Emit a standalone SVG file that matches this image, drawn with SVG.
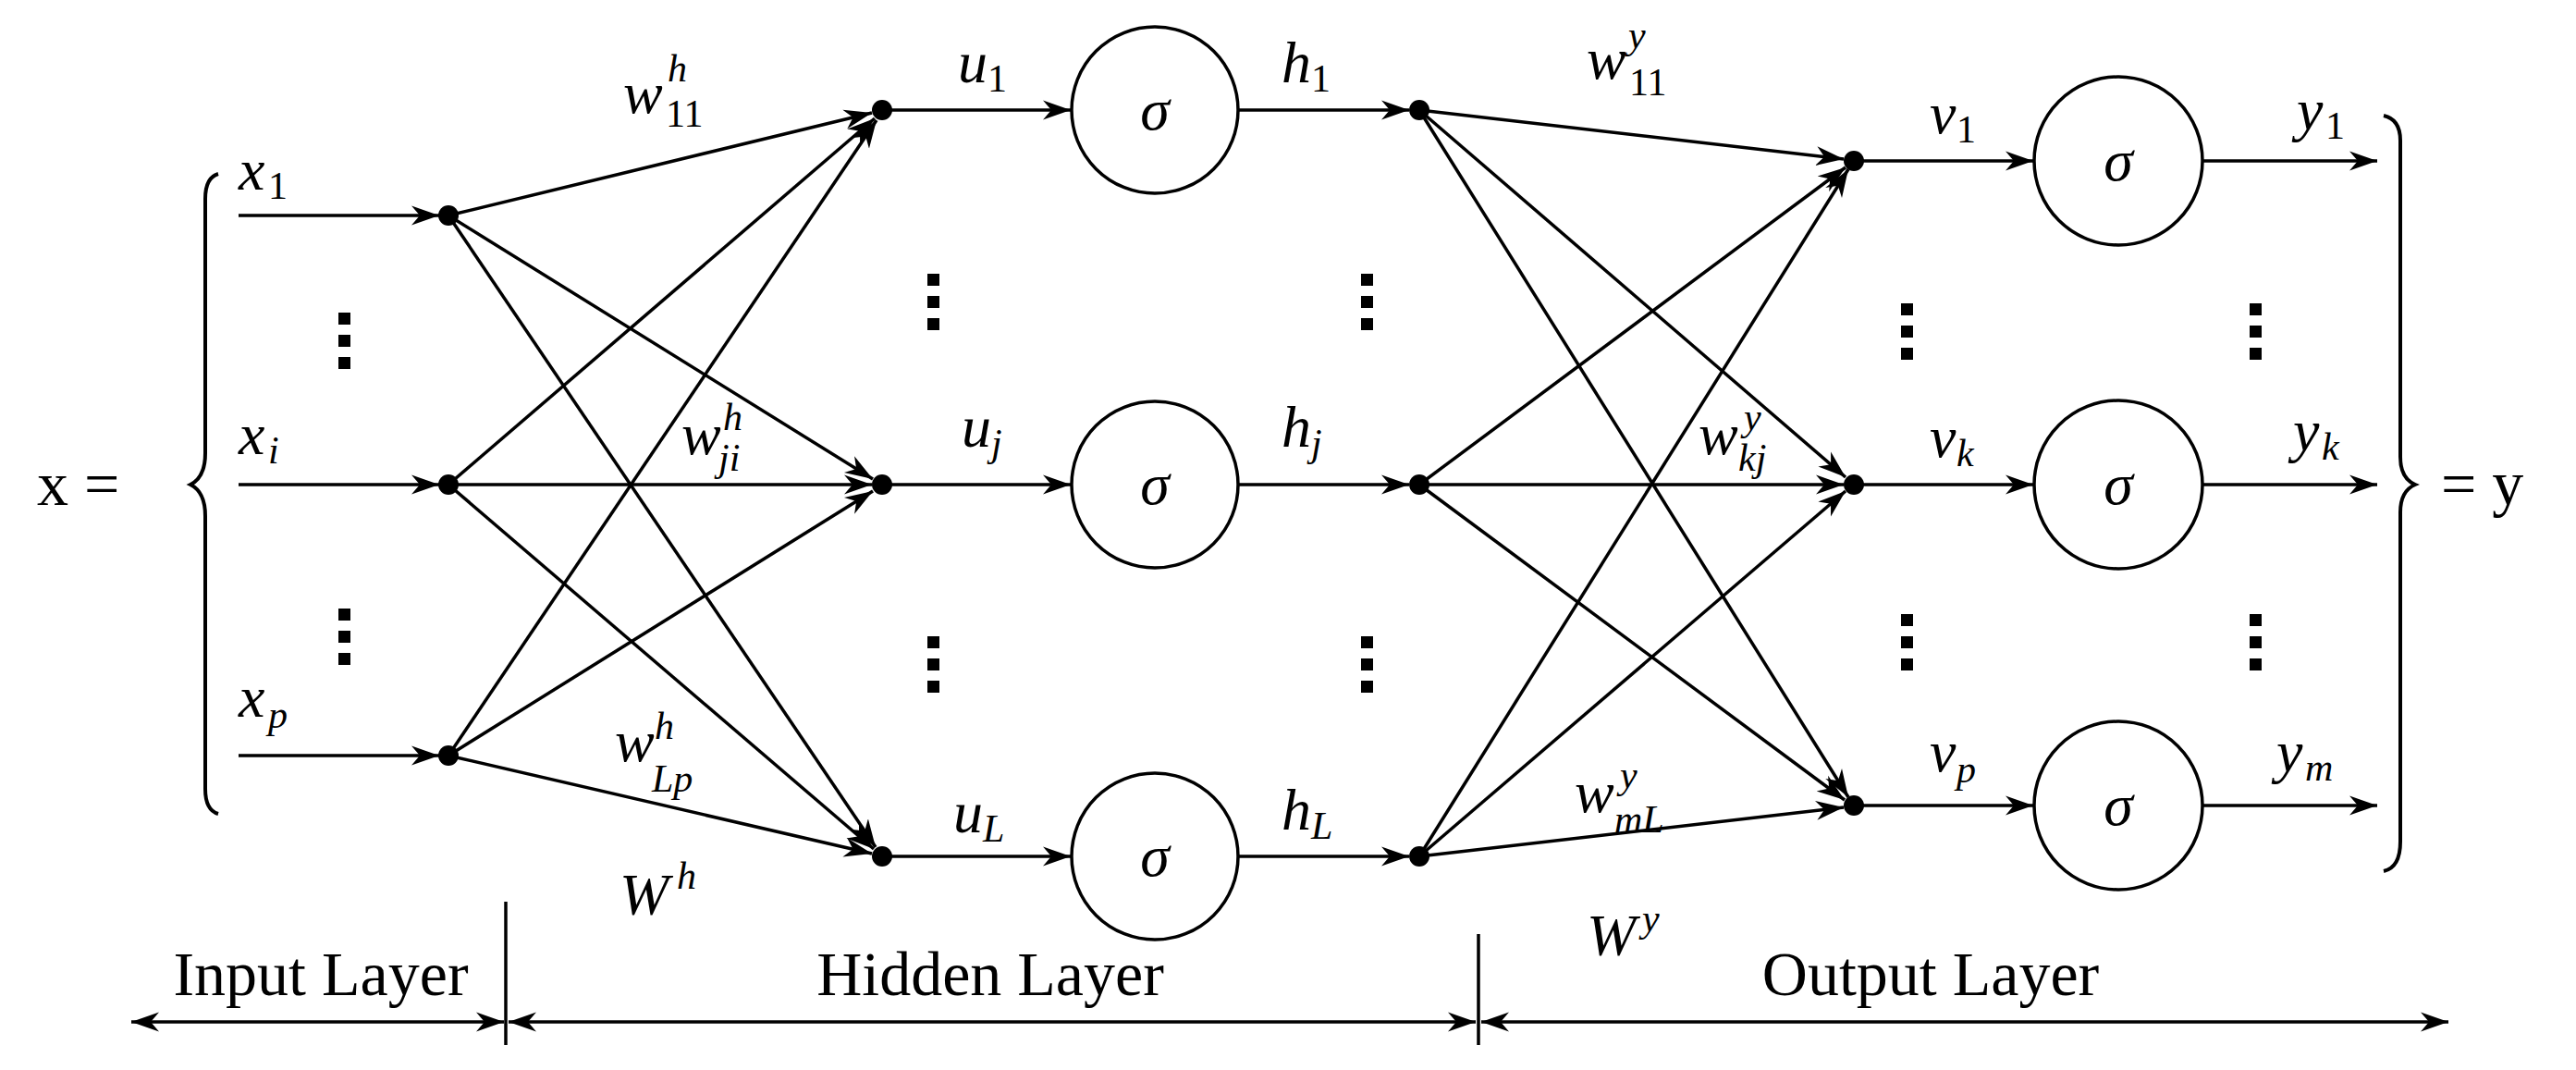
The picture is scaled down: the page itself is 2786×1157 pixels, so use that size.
<svg xmlns="http://www.w3.org/2000/svg" width="2786" height="1157" viewBox="0 0 2786 1157">
<defs>
<marker id="b" viewBox="0 0 10 10" refX="10" refY="5" markerWidth="30" markerHeight="30" markerUnits="userSpaceOnUse" orient="auto-start-reverse"><path d="M0,1.5 L10,5 L0,8.5 L3,5 Z" fill="#000"/></marker>
</defs>
<style>
line{stroke:#000;stroke-width:3.5;fill:none}
.e{marker-end:url(#b)}
circle.n{fill:#000}
circle.s{fill:#fff;stroke:#000;stroke-width:3.5}
text{font-family:"Liberation Serif",serif;fill:#000}
.m{font-style:italic;font-size:64px}
.r{font-size:42px}
.i{font-size:42px;font-style:italic}
.sg{font-style:italic;font-size:64px}
.l{font-size:68px}
.d{fill:#000}
</style>
<rect width="2786" height="1157" fill="#fff"/>
<g id="connectors">
<line class="e" x1="258" y1="233" x2="475" y2="233"/>
<line class="e" x1="258" y1="524" x2="475" y2="524"/>
<line class="e" x1="258" y1="817" x2="475" y2="817"/>
<line class="e" x1="485" y1="233" x2="943" y2="122"/>
<line class="e" x1="485" y1="233" x2="944" y2="518"/>
<line class="e" x1="485" y1="233" x2="947" y2="916"/>
<line class="e" x1="485" y1="524" x2="946" y2="128"/>
<line class="e" x1="485" y1="524" x2="943" y2="524"/>
<line class="e" x1="485" y1="524" x2="945" y2="918"/>
<line class="e" x1="485" y1="817" x2="948" y2="130"/>
<line class="e" x1="485" y1="817" x2="944" y2="531"/>
<line class="e" x1="485" y1="817" x2="943" y2="923"/>
<line class="e" x1="954" y1="119" x2="1158" y2="119"/>
<line class="e" x1="954" y1="524" x2="1158" y2="524"/>
<line class="e" x1="954" y1="926" x2="1158" y2="926"/>
<line class="e" x1="1340" y1="119" x2="1524" y2="119"/>
<line class="e" x1="1340" y1="524" x2="1524" y2="524"/>
<line class="e" x1="1340" y1="926" x2="1524" y2="926"/>
<line class="e" x1="1535" y1="119" x2="1994" y2="172"/>
<line class="e" x1="1535" y1="119" x2="1996" y2="516"/>
<line class="e" x1="1535" y1="119" x2="1999" y2="862"/>
<line class="e" x1="1535" y1="524" x2="1996" y2="181"/>
<line class="e" x1="1535" y1="524" x2="1994" y2="524"/>
<line class="e" x1="1535" y1="524" x2="1995" y2="865"/>
<line class="e" x1="1535" y1="926" x2="1999" y2="183"/>
<line class="e" x1="1535" y1="926" x2="1996" y2="531"/>
<line class="e" x1="1535" y1="926" x2="1994" y2="873"/>
<line class="e" x1="2005" y1="174" x2="2199" y2="174"/>
<line class="e" x1="2005" y1="524" x2="2199" y2="524"/>
<line class="e" x1="2005" y1="871" x2="2199" y2="871"/>
<line class="e" x1="2383" y1="174" x2="2571" y2="174"/>
<line class="e" x1="2383" y1="524" x2="2571" y2="524"/>
<line class="e" x1="2383" y1="871" x2="2571" y2="871"/>
</g>
<g id="input-nodes">
<circle class="n" cx="485" cy="233" r="11"/>
<circle class="n" cx="485" cy="524" r="11"/>
<circle class="n" cx="485" cy="817" r="11"/>
</g>
<g id="hidden-nodes">
<circle class="n" cx="954" cy="119" r="11"/>
<circle class="n" cx="954" cy="524" r="11"/>
<circle class="n" cx="954" cy="926" r="11"/>
<circle class="s" cx="1249" cy="119" r="90"/><text class="sg" x="1249" y="140" text-anchor="middle">σ</text>
<circle class="s" cx="1249" cy="524" r="90"/><text class="sg" x="1249" y="545" text-anchor="middle">σ</text>
<circle class="s" cx="1249" cy="926" r="90"/><text class="sg" x="1249" y="947" text-anchor="middle">σ</text>
<circle class="n" cx="1535" cy="119" r="11"/>
<circle class="n" cx="1535" cy="524" r="11"/>
<circle class="n" cx="1535" cy="926" r="11"/>
</g>
<g id="output-nodes">
<circle class="n" cx="2005" cy="174" r="11"/>
<circle class="n" cx="2005" cy="524" r="11"/>
<circle class="n" cx="2005" cy="871" r="11"/>
<circle class="s" cx="2291" cy="174" r="91"/><text class="sg" x="2291" y="195" text-anchor="middle">σ</text>
<circle class="s" cx="2291" cy="524" r="91"/><text class="sg" x="2291" y="545" text-anchor="middle">σ</text>
<circle class="s" cx="2291" cy="871" r="91"/><text class="sg" x="2291" y="892" text-anchor="middle">σ</text>
</g>
<g id="dots" class="d">
<rect x="366" y="338" width="13" height="13"/><rect x="366" y="362" width="13" height="13"/><rect x="366" y="386" width="13" height="13"/>
<rect x="366" y="658" width="13" height="13"/><rect x="366" y="682" width="13" height="13"/><rect x="366" y="706" width="13" height="13"/>
<rect x="1003" y="296" width="13" height="13"/><rect x="1003" y="320" width="13" height="13"/><rect x="1003" y="344" width="13" height="13"/>
<rect x="1003" y="688" width="13" height="13"/><rect x="1003" y="712" width="13" height="13"/><rect x="1003" y="736" width="13" height="13"/>
<rect x="1472" y="296" width="13" height="13"/><rect x="1472" y="320" width="13" height="13"/><rect x="1472" y="344" width="13" height="13"/>
<rect x="1472" y="688" width="13" height="13"/><rect x="1472" y="712" width="13" height="13"/><rect x="1472" y="736" width="13" height="13"/>
<rect x="2056" y="328" width="13" height="13"/><rect x="2056" y="352" width="13" height="13"/><rect x="2056" y="376" width="13" height="13"/>
<rect x="2056" y="664" width="13" height="13"/><rect x="2056" y="688" width="13" height="13"/><rect x="2056" y="712" width="13" height="13"/>
<rect x="2433" y="328" width="13" height="13"/><rect x="2433" y="352" width="13" height="13"/><rect x="2433" y="376" width="13" height="13"/>
<rect x="2433" y="664" width="13" height="13"/><rect x="2433" y="688" width="13" height="13"/><rect x="2433" y="712" width="13" height="13"/>
</g>
<g id="braces" fill="none" stroke="#000" stroke-width="4">
<path d="M236,188 Q222,192 222,215 L222,490 Q222,516 206,524 Q222,532 222,558 L222,853 Q222,876 236,880"/>
<path d="M2578,125 Q2596,129 2596,152 L2596,494 Q2596,517 2612,524 Q2596,531 2596,554 L2596,910 Q2596,938 2578,942"/>
</g>
<g id="labels">
<text class="l" x="40" y="546">x =</text>
<text class="l" x="2640" y="546">= y</text>
<text class="m" x="258" y="205">x</text><text class="r" x="290" y="215">1</text>
<text class="m" x="258" y="491">x</text><text class="i" x="290" y="501">i</text>
<text class="m" x="258" y="775">x</text><text class="i" x="290" y="787">p</text>
<text class="m" x="674" y="122">w</text><text class="i" x="722" y="88">h</text><text class="r" x="720" y="137">11</text>
<text class="m" x="737" y="491">w</text><text class="i" x="782" y="465">h</text><text class="i" x="777" y="509">ji</text>
<text class="m" x="665" y="823">w</text><text class="i" x="708" y="799">h</text><text class="i" x="705" y="856">Lp</text>
<text class="m" x="670" y="989">W</text><text class="i" x="732" y="961">h</text>
<text class="m" x="1036" y="89">u</text><text class="r" x="1068" y="99">1</text>
<text class="m" x="1040" y="483">u</text><text class="i" x="1072" y="493">j</text>
<text class="m" x="1031" y="900">u</text><text class="i" x="1063" y="910">L</text>
<text class="m" x="1386" y="89">h</text><text class="r" x="1418" y="99">1</text>
<text class="m" x="1386" y="483">h</text><text class="i" x="1418" y="493">j</text>
<text class="m" x="1386" y="897">h</text><text class="i" x="1418" y="907">L</text>
<text class="m" x="1716" y="85">w</text><text class="i" x="1761" y="52">y</text><text class="r" x="1762" y="103">11</text>
<text class="m" x="1837" y="491">w</text><text class="i" x="1886" y="465">y</text><text class="i" x="1880" y="509">kj</text>
<text class="m" x="1703" y="878">w</text><text class="i" x="1752" y="852">y</text><text class="i" x="1746" y="900">mL</text>
<text class="m" x="1716" y="1033">W</text><text class="i" x="1776" y="1007">y</text>
<text class="m" x="2087" y="144">v</text><text class="r" x="2116" y="154">1</text>
<text class="m" x="2087" y="494">v</text><text class="i" x="2116" y="504">k</text>
<text class="m" x="2087" y="834">v</text><text class="i" x="2116" y="846">p</text>
<text class="m" x="2484" y="140">y</text><text class="r" x="2515" y="150">1</text>
<text class="m" x="2480" y="487">y</text><text class="i" x="2511" y="497">k</text>
<text class="m" x="2462" y="834">y</text><text class="i" x="2493" y="844">m</text>
</g>
<g id="layer-axis">
<line x1="547" y1="975" x2="547" y2="1130"/>
<line x1="1599" y1="1010" x2="1599" y2="1130"/>
<line x1="142" y1="1105" x2="545" y2="1105" marker-start="url(#b)" marker-end="url(#b)"/>
<line x1="550" y1="1105" x2="1596" y2="1105" marker-start="url(#b)" marker-end="url(#b)"/>
<line x1="1602" y1="1105" x2="2648" y2="1105" marker-start="url(#b)" marker-end="url(#b)"/>
<text class="l" x="347" y="1076" text-anchor="middle">Input Layer</text>
<text class="l" x="1071" y="1076" text-anchor="middle">Hidden Layer</text>
<text class="l" x="2088" y="1076" text-anchor="middle">Output Layer</text>
</g>
</svg>
